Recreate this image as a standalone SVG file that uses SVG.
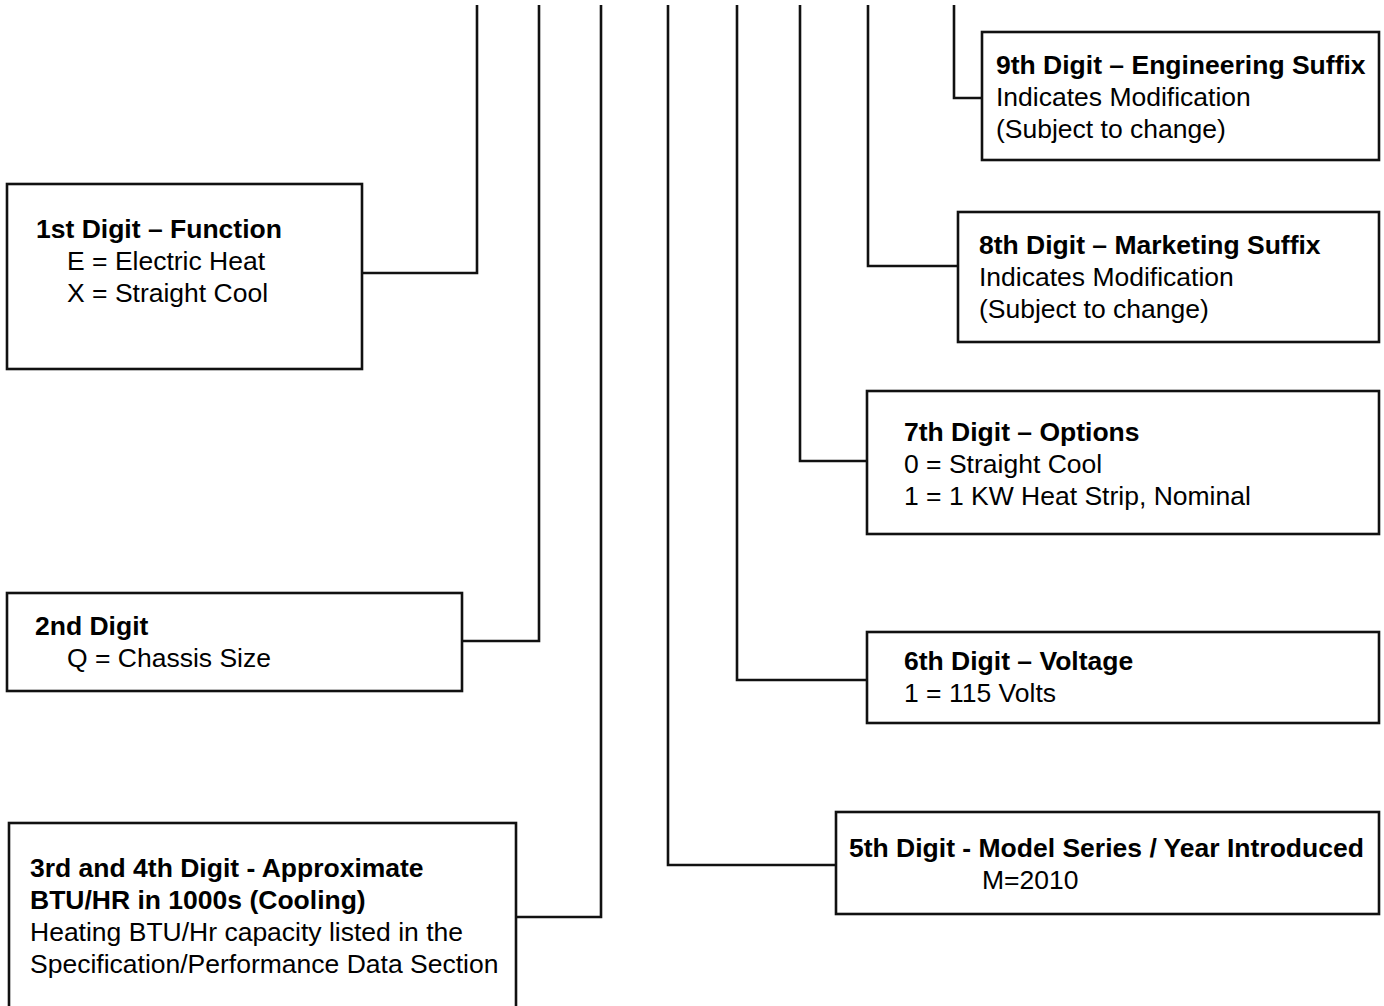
<svg xmlns="http://www.w3.org/2000/svg" width="1384" height="1006" viewBox="0 0 1384 1006">
<style>
.box{fill:#fff;stroke:#111;stroke-width:2.6}
.conn{fill:none;stroke:#111;stroke-width:2.6}
text{font-family:"Liberation Sans",Arial,sans-serif;font-size:26.5px;fill:#000}
.b{font-weight:bold}
</style>
<rect width="1384" height="1006" fill="#fff"/>
<g id="connectors">
<polyline class="conn" points="362,273 477,273 477,5"/>
<polyline class="conn" points="462,641 539,641 539,5"/>
<polyline class="conn" points="516,917 601,917 601,5"/>
<polyline class="conn" points="836,865 668,865 668,5"/>
<polyline class="conn" points="867,680 737,680 737,5"/>
<polyline class="conn" points="867,461 800,461 800,5"/>
<polyline class="conn" points="958,266 868,266 868,5"/>
<polyline class="conn" points="982,98 954,98 954,5"/>
</g>
<g id="node1">
<rect class="box" x="7" y="184" width="355" height="185"/>
<text class="b" x="36" y="238">1st Digit – Function</text>
<text x="67" y="270">E = Electric Heat</text>
<text x="67" y="302">X = Straight Cool</text>
</g>
<g id="node2">
<rect class="box" x="7" y="593" width="455" height="98"/>
<text class="b" x="35" y="635">2nd Digit</text>
<text x="67" y="667">Q = Chassis Size</text>
</g>
<g id="node3">
<rect class="box" x="9" y="823" width="507" height="200"/>
<text class="b" x="30" y="877">3rd and 4th Digit - Approximate</text>
<text class="b" x="30" y="909">BTU/HR in 1000s (Cooling)</text>
<text x="30" y="941">Heating BTU/Hr capacity listed in the</text>
<text x="30" y="973">Specification/Performance Data Section</text>
</g>
<g id="node5">
<rect class="box" x="836" y="812" width="543" height="102"/>
<text class="b" x="849" y="857">5th Digit - Model Series / Year Introduced</text>
<text x="982" y="889">M=2010</text>
</g>
<g id="node6">
<rect class="box" x="867" y="632" width="512" height="91"/>
<text class="b" x="904" y="670">6th Digit – Voltage</text>
<text x="904" y="702">1 = 115 Volts</text>
</g>
<g id="node7">
<rect class="box" x="867" y="391" width="512" height="143"/>
<text class="b" x="904" y="441">7th Digit – Options</text>
<text x="904" y="473">0 = Straight Cool</text>
<text x="904" y="505">1 = 1 KW Heat Strip, Nominal</text>
</g>
<g id="node8">
<rect class="box" x="958" y="212" width="421" height="130"/>
<text class="b" x="979" y="254">8th Digit – Marketing Suffix</text>
<text x="979" y="286">Indicates Modification</text>
<text x="979" y="318">(Subject to change)</text>
</g>
<g id="node9">
<rect class="box" x="982" y="32" width="397" height="128"/>
<text class="b" x="996" y="74">9th Digit – Engineering Suffix</text>
<text x="996" y="106">Indicates Modification</text>
<text x="996" y="138">(Subject to change)</text>
</g>
</svg>
